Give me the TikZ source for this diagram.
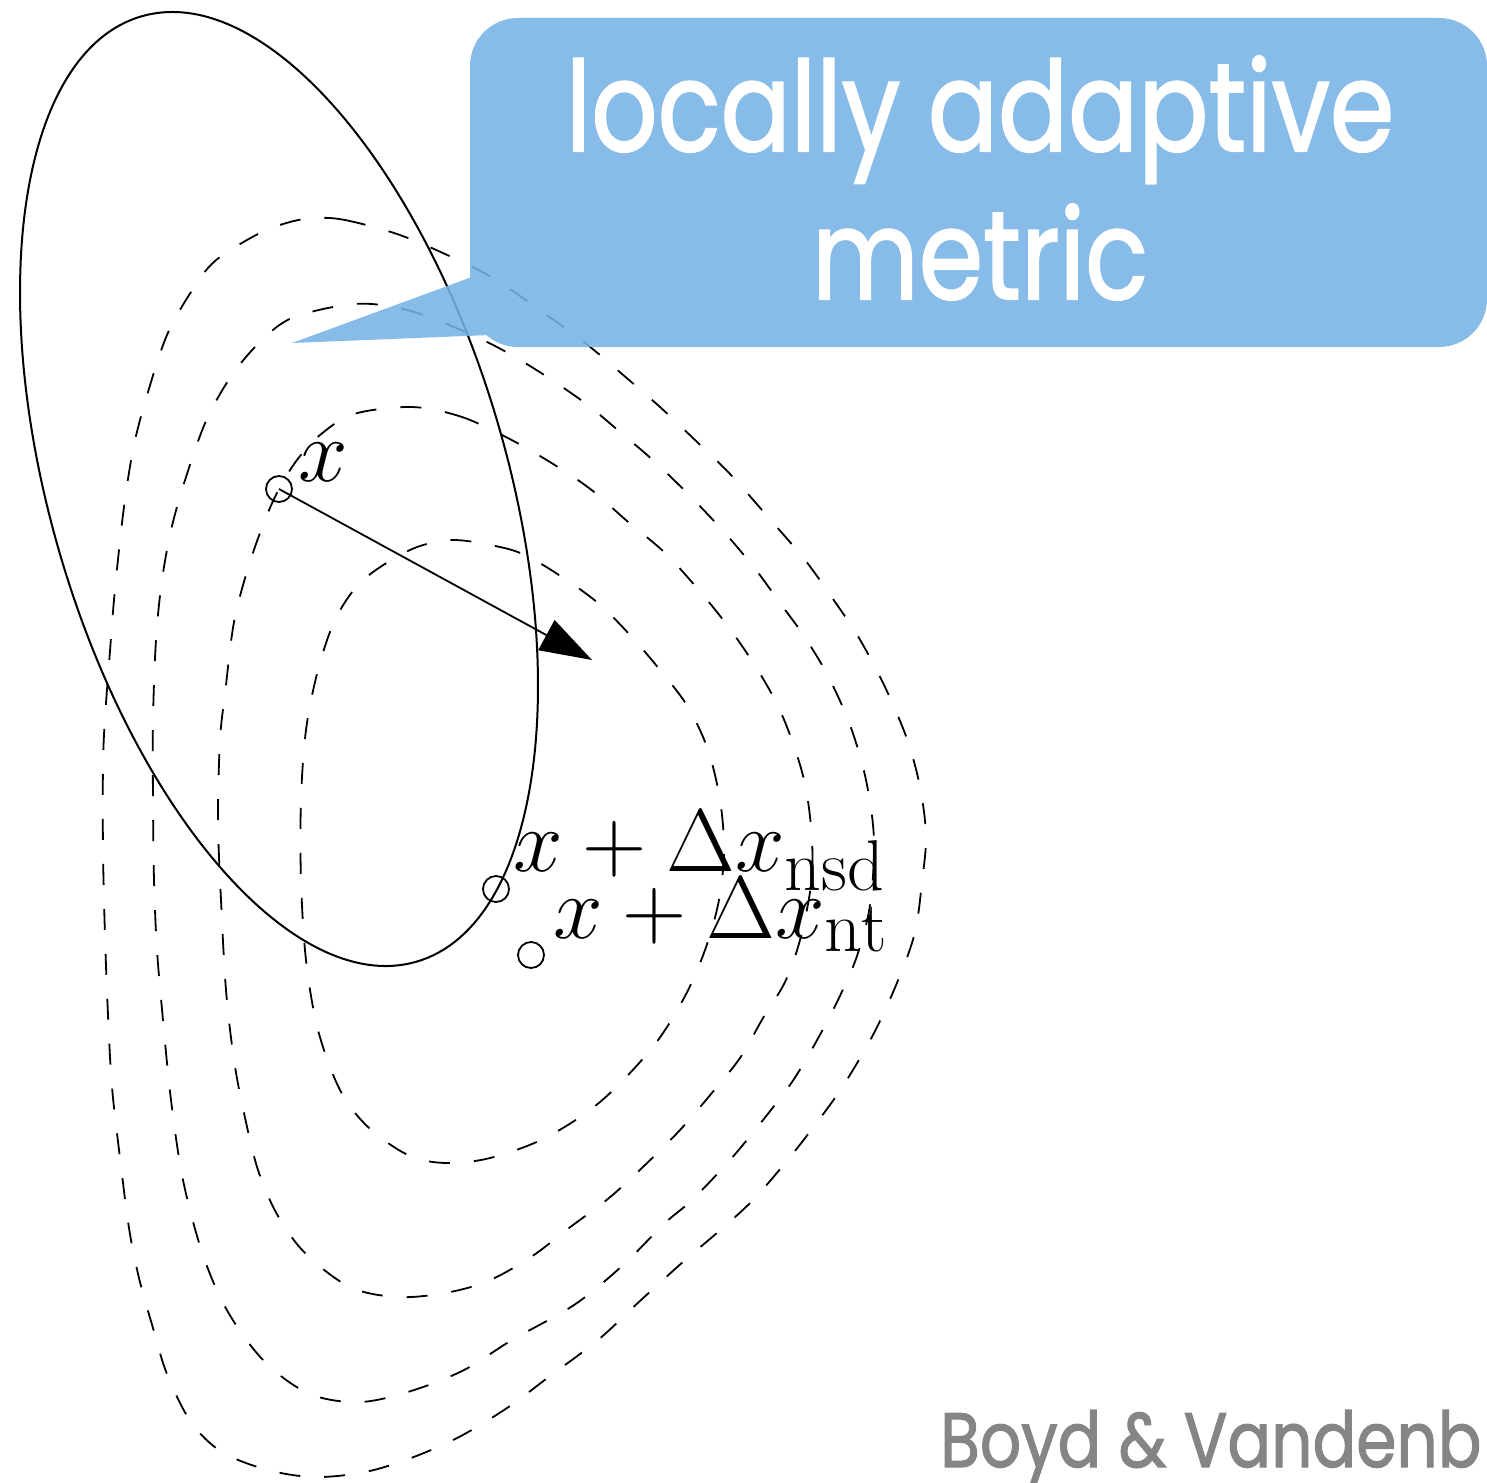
\RequirePackage{fix-cm}
\documentclass[tikz,border=0pt]{standalone}
\usepackage{fontspec}
\newfontfamily\calloutfont[FakeBold=1.6]{Poppins}
\DeclareMathSizes{89}{89}{72}{55}
\usetikzlibrary{arrows.meta}
\definecolor{calloutblue}{RGB}{118,178,229}
\definecolor{creditgray}{RGB}{133,133,133}
\begin{document}
\begin{tikzpicture}[x=1pt,y=-1pt,
  level/.style={line width=1.8pt, dash pattern=on 21pt off 24pt},
  metricellipse/.style={line width=2pt},
  ptmark/.style={circle, draw, line width=1.8pt, minimum size=26pt, inner sep=0pt},
  lbl/.style={inner sep=0pt, font=\fontsize{89}{92}\selectfont},
  steparrow/.style={line width=1.8pt, -{Triangle[length=52pt,width=34pt]}},
  callout/.style={fill=calloutblue, fill opacity=0.88},
  callouttext/.style={text=white, align=center, inner sep=0pt, font=\calloutfont\fontsize{125}{148}\selectfont},
  credit/.style={text=creditgray, inner sep=0pt, font=\calloutfont\fontsize{77}{80}\selectfont}]
\useasboundingbox (0,0) rectangle (1487,1482);
\clip (0,0) rectangle (1487,1482);

% level curves
\draw[level] plot[smooth cycle, tension=0.55] coordinates {
 (455,540) (500,547) (527,556) (562,577) (598,603) (630,635) (660,670) (688,707)
 (708,750) (720,800) (724,850) (719,900) (705,950) (684,998) (652,1048) (600,1102)
 (545,1138) (490,1158) (445,1163) (408,1155) (368,1127) (340,1090) (318,1030)
 (306,960) (301,880) (301,800) (306,730) (318,670) (335,620) (358,585) (388,562) (420,546)};
\draw[level] plot[smooth cycle, tension=0.55] coordinates {
 (411,407) (459,416) (502,435) (545,459) (589,488) (627,521) (664,552) (697,588)
 (727,625) (754,664) (777,704) (794,746) (806,789) (812,840) (811,885) (800,940)
 (785,982) (763,1018) (740,1058) (711,1094) (680,1130) (645,1165) (609,1198)
 (569,1228) (531,1257) (488,1281) (445,1293) (397,1297) (350,1287) (306,1254)
 (278,1216) (258,1170) (244,1113) (234,1060) (226,990) (221,900) (218,820)
 (220,740) (225,694) (234,622) (249,565) (265,520) (279,489) (297,460) (320,435) (354,414)};
\draw[level] plot[smooth cycle, tension=0.55] coordinates {
 (354,304) (403,309) (449,325) (495,346) (538,371) (585,403) (620,432) (655,462)
 (690,496) (725,533) (756,570) (780,603) (804,636) (828,676) (850,725) (866,780)
 (874,840) (870,905) (857,956) (838,1000) (816,1042) (792,1082) (763,1120)
 (730,1160) (692,1200) (665,1223) (622,1266) (574,1305) (512,1340) (464,1370)
 (411,1391) (360,1402) (310,1394) (265,1362) (228,1312) (203,1255) (183,1180)
 (171,1100) (163,1020) (157,950) (154,880) (153,800) (153,720) (156,640) (162,580)
 (172,526) (187,474) (206,421) (230,378) (258,344) (292,318)};
\draw[level] plot[smooth cycle, tension=0.55] coordinates {
 (316,218) (345,220) (397,234) (445,254) (493,278) (541,311) (584,342) (622,374)
 (660,407) (695,440) (730,474) (768,517) (805,560) (833,599) (859,638) (885,687)
 (907,739) (920,787) (926,836) (922,882) (915,932) (899,978) (874,1033) (843,1086)
 (815,1125) (786,1162) (752,1201) (718,1232) (684,1261) (641,1300) (598,1340)
 (550,1376) (507,1408) (459,1437) (411,1458) (365,1472) (315,1477) (268,1470)
 (222,1452) (191,1422) (167,1374) (153,1328) (139,1278) (129,1228) (120,1158)
 (112,1087) (108,1015) (105,936) (103,850) (103,765) (105,718) (110,651) (115,589)
 (124,507) (134,445) (148,392) (167,335) (191,292) (215,261) (258,234) (290,222)};

% unit ball of the local metric
\draw[metricellipse, rotate around={106.23:(279,489)}] (279,489) ellipse [x radius=492.3, y radius=228.5];

% points
\node[ptmark] (px) at (279,489) {};
\node[ptmark] (pnsd) at (496,889) {};
\node[ptmark] (pnt) at (531,955) {};
\coordinate (tip) at (592,660);
\draw[steparrow] (px.center) -- (tip);

% labels
\node[lbl, anchor=base west] (lx) at (298,481) {$x$};
\node[lbl, anchor=base west] (lnsd) at (513,871) {$x+\Delta x_{\mathrm{nsd}}$};
\node[lbl, anchor=base west] (lnt) at (553,938) {$x+\Delta x_{\mathrm{nt}}$};

% callout
\path[callout] (292,343) -- (490,335) -- (472,277) -- cycle
  [rounded corners=48pt] (470,18) rectangle (1487,347);
\node[callouttext] (ctext) at (980,178) {\scalebox{0.83}[1]{locally adaptive}\\\scalebox{0.83}[1]{metric}};

\node[credit, anchor=base west] (credit) at (940,1467) {\scalebox{0.84}[1]{Boyd \& Vandenb}};
\end{tikzpicture}
\end{document}
